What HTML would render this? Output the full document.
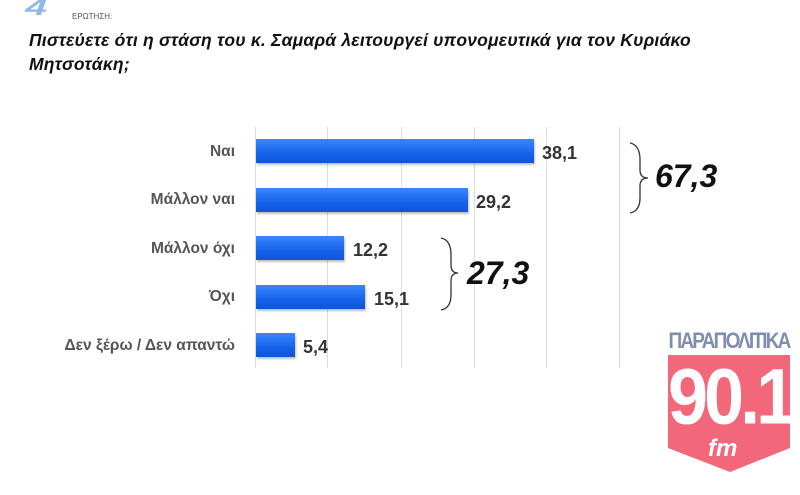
<!DOCTYPE html>
<html><head><meta charset="utf-8"><style>
body{margin:0;width:800px;height:495px;background:#fff;overflow:hidden;font-family:"Liberation Sans","DejaVu Sans",sans-serif;position:relative}
.a{position:absolute}
.cat{position:absolute;right:565px;font-size:15.5px;font-weight:bold;color:#555;white-space:nowrap;line-height:18px}
.bar{position:absolute;left:256px;height:24px;background:linear-gradient(#3a86ff,#1662ea 60%,#0f55d6);box-shadow:1px 2px 2px rgba(0,0,0,.25)}
.v{position:absolute;font-size:18px;color:#333;font-weight:bold;line-height:20px}
.g{position:absolute;top:127px;height:241px;width:1px;background:#ddd}
</style></head><body>
<div class="a" style="left:30px;top:-2px;font-size:22px;font-weight:bold;font-style:italic;color:#8fb8e8;line-height:20px;transform:scaleX(1.8)">4</div>
<div class="a" style="left:72px;top:12px;font-size:8px;color:#555">ΕΡΩΤΗΣΗ:</div>
<div class="a" style="left:29px;top:28px;font-size:17.5px;font-weight:bold;font-style:italic;color:#111;line-height:24px;width:760px;letter-spacing:0.2px">Πιστεύετε ότι η στάση του κ. Σαμαρά λειτουργεί υπονομευτικά για τον Κυριάκο<br>Μητσοτάκη;</div>
<div class="g" style="left:255px"></div><div class="g" style="left:327px"></div><div class="g" style="left:401px"></div><div class="g" style="left:474px"></div><div class="g" style="left:546px"></div><div class="g" style="left:619px"></div>
<div class="cat" style="top:143px">Ναι</div>
<div class="cat" style="top:191px">Μάλλον ναι</div>
<div class="cat" style="top:240px">Μάλλον όχι</div>
<div class="cat" style="top:288px">Όχι</div>
<div class="cat" style="top:337px">Δεν ξέρω / Δεν απαντώ</div>
<div class="bar" style="top:139px;width:278px"></div>
<div class="bar" style="top:188px;width:212px"></div>
<div class="bar" style="top:236px;width:88px"></div>
<div class="bar" style="top:285px;width:109px"></div>
<div class="bar" style="top:333px;width:39px"></div>
<div class="v" style="left:542px;top:143px">38,1</div>
<div class="v" style="left:476px;top:192px">29,2</div>
<div class="v" style="left:353px;top:240px">12,2</div>
<div class="v" style="left:374px;top:289px">15,1</div>
<div class="v" style="left:303px;top:337px">5,4</div>
<svg class="a" style="left:0;top:0" width="800" height="495"><g fill="none" stroke="#333" stroke-width="1.3">
<path d="M630 143 Q640 145 640 160 L640 170 Q640 178 648 178 Q640 178 640 186 L640 198 Q640 211 630 213"/>
<path d="M441 238 Q451 240 451 255 L451 265 Q451 273 458 273 Q451 273 451 281 L451 295 Q451 308 441 310"/></g>
<polygon points="668,355 790,355 790,448 730,472 668,448" fill="#f3677a"/>
</svg>
<div class="a" style="left:655px;top:158px;font-size:32px;font-weight:bold;font-style:italic;color:#111">67,3</div>
<div class="a" style="left:467px;top:255px;font-size:32px;font-weight:bold;font-style:italic;color:#111">27,3</div>
<div class="a" style="left:668px;top:331px;width:122px;font-size:19px;font-weight:bold;color:#7f8db0;letter-spacing:-1.8px;transform:scaleY(1.15);text-align:center">ΠΑΡΑΠΟΛΙΤΙΚΑ</div>
<div class="a" style="left:668px;top:352px;width:122px;text-align:center;font-size:72px;font-weight:bold;color:#fff;letter-spacing:-4px;line-height:90px;transform:scaleY(1.1)">90.1</div>
<div class="a" style="left:708px;top:435px;font-size:24px;font-weight:bold;font-style:italic;color:#fff">fm</div>
</body></html>
